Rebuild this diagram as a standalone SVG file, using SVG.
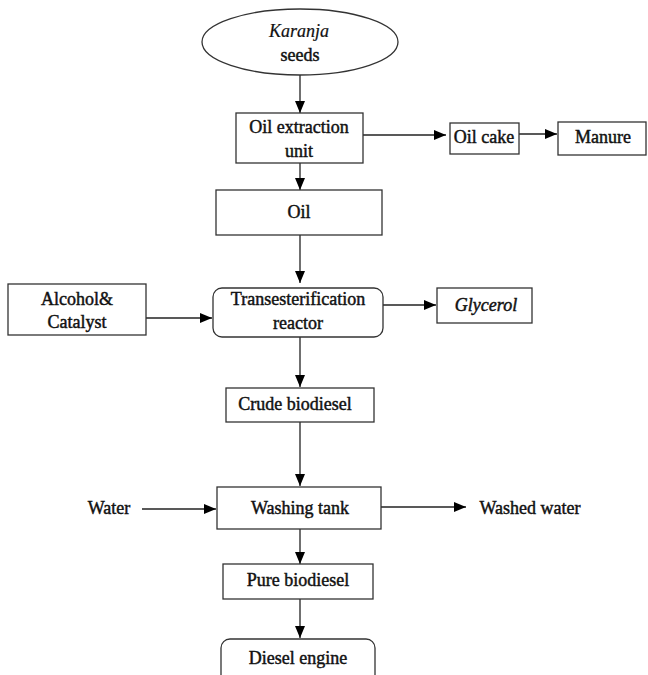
<svg xmlns="http://www.w3.org/2000/svg" width="648" height="675" viewBox="0 0 648 675">
<defs>
<marker id="ah" markerWidth="12" markerHeight="10" refX="12" refY="5" orient="auto" markerUnits="userSpaceOnUse">
<path d="M0,0 L12,5 L0,10 Z" fill="#000"/>
</marker>
<style>
.box{fill:#fff;stroke:#333;stroke-width:1.3}
.t{font-family:"Liberation Serif","Times New Roman",serif;font-size:18px;font-weight:normal;fill:#111;stroke:#111;stroke-width:0.45;text-anchor:middle}
.i{font-style:italic}
.c{stroke:#222;stroke-width:1.3;fill:none;marker-end:url(#ah)}
</style>
</defs>
<rect width="648" height="675" fill="#fff"/>
<g id="connectors">
<line class="c" x1="300" y1="75" x2="300" y2="113"/>
<line class="c" x1="363" y1="135" x2="446" y2="135"/>
<line class="c" x1="519" y1="134" x2="557" y2="134"/>
<line class="c" x1="300" y1="163" x2="300" y2="190"/>
<line class="c" x1="300" y1="235" x2="300" y2="283"/>
<line class="c" x1="146" y1="318" x2="212" y2="318"/>
<line class="c" x1="383" y1="305" x2="436" y2="305"/>
<line class="c" x1="300" y1="337" x2="300" y2="387"/>
<line class="c" x1="300" y1="422" x2="300" y2="486"/>
<line class="c" x1="142" y1="509" x2="216" y2="509"/>
<line class="c" x1="381" y1="507" x2="466" y2="507"/>
<line class="c" x1="300" y1="529" x2="300" y2="564"/>
<line class="c" x1="300" y1="599" x2="300" y2="638"/>
</g>
<g font-family="Liberation Serif, Times New Roman, serif">
<g id="seeds">
<ellipse class="box" cx="300" cy="42" rx="98" ry="33"/>
<text class="t i" x="299" y="37" style="stroke-width:0.2">Karanja</text>
<text class="t" x="300" y="61">seeds</text>
</g>
<g id="oil-extraction">
<rect class="box" x="236" y="113" width="127" height="50"/>
<text class="t" x="299" y="133">Oil extraction</text>
<text class="t" x="299" y="157">unit</text>
</g>
<g id="oil-cake">
<rect class="box" x="450" y="123" width="69" height="31"/>
<text class="t" x="484" y="143">Oil cake</text>
</g>
<g id="manure">
<rect class="box" x="558" y="122" width="88" height="33"/>
<text class="t" x="603" y="143">Manure</text>
</g>
<g id="oil">
<rect class="box" x="216" y="190" width="166" height="45"/>
<text class="t" x="299" y="218">Oil</text>
</g>
<g id="alcohol-catalyst">
<rect class="box" x="8" y="284" width="138" height="51"/>
<text class="t" x="77" y="305">Alcohol&amp;</text>
<text class="t" x="77" y="328">Catalyst</text>
</g>
<g id="transesterification">
<rect class="box" x="213" y="288" width="170" height="49" rx="9"/>
<text class="t" x="298" y="305">Transesterification</text>
<text class="t" x="298" y="329">reactor</text>
</g>
<g id="glycerol">
<rect class="box" x="437" y="288" width="95" height="35"/>
<text class="t i" x="486" y="311">Glycerol</text>
</g>
<g id="crude-biodiesel">
<rect class="box" x="226" y="388" width="148" height="34"/>
<text class="t" x="295" y="410">Crude biodiesel</text>
</g>
<g id="water">
<text class="t" x="109" y="514">Water</text>
</g>
<g id="washing-tank">
<rect class="box" x="217" y="487" width="164" height="42"/>
<text class="t" x="300" y="514">Washing tank</text>
</g>
<g id="washed-water">
<text class="t" x="530" y="514">Washed water</text>
</g>
<g id="pure-biodiesel">
<rect class="box" x="223" y="564" width="150" height="35"/>
<text class="t" x="298" y="586">Pure biodiesel</text>
</g>
<g id="diesel-engine">
<rect class="box" x="221" y="639" width="154" height="50" rx="9"/>
<text class="t" x="298" y="664">Diesel engine</text>
</g>
</g>
</svg>
